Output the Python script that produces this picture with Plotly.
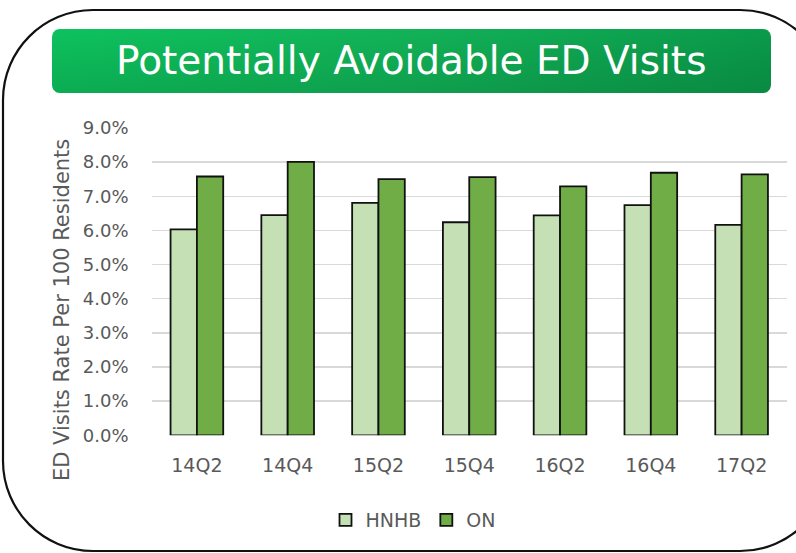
import math
import plotly.graph_objects as go

# ---- data ----
categories = ["14Q2", "14Q4", "15Q2", "15Q4", "16Q2", "16Q4", "17Q2"]
hnhb = [0.0603, 0.0645, 0.0681, 0.0624, 0.0644, 0.0674, 0.0616]
on = [0.0758, 0.0801, 0.0750, 0.0756, 0.0729, 0.0769, 0.0764]
series_names = ["HNHB", "ON"]
y_ticks = [i / 100 for i in range(0, 10)]
title_text = "Potentially Avoidable ED Visits"
y_title = "ED Visits Rate Per 100 Residents"

W, H = 796, 553
FONT = "DejaVu Sans"
GRAY = "#595959"

fig = go.Figure()

fig.add_trace(go.Bar(x=categories, y=hnhb, name=series_names[0],
                     marker=dict(color="#c5e0b4", line=dict(color="#111111", width=1.8)),
                     hoverinfo="skip"))
fig.add_trace(go.Bar(x=categories, y=on, name=series_names[1],
                     marker=dict(color="#70ad47", line=dict(color="#111111", width=1.8)),
                     hoverinfo="skip"))

# --- decorative overlay in pixel coordinates ---
def rounded_path(x0, y0, x1, y1, r):
    k = 0.5523 * r
    return (f"M{x0+r},{y0} L{x1-r},{y0} C{x1-r+k},{y0} {x1},{y0+r-k} {x1},{y0+r} "
            f"L{x1},{y1-r} C{x1},{y1-r+k} {x1-r+k},{y1} {x1-r},{y1} "
            f"L{x0+r},{y1} C{x0+r-k},{y1} {x0},{y1-r+k} {x0},{y1-r} "
            f"L{x0},{y0+r} C{x0},{y0+r-k} {x0+r-k},{y0} {x0+r},{y0} Z")

def rounded_points(x0, y0, x1, y1, r, n=8):
    pts = []
    corners = [(x1 - r, y0 + r, -90, 0), (x1 - r, y1 - r, 0, 90),
               (x0 + r, y1 - r, 90, 180), (x0 + r, y0 + r, 180, 270)]
    for cx, cy, a0, a1 in corners:
        for i in range(n + 1):
            a = math.radians(a0 + (a1 - a0) * i / n)
            pts.append((cx + r * math.cos(a), cy + r * math.sin(a)))
    pts.append(pts[0])
    return [p[0] for p in pts], [p[1] for p in pts]

bx, by = rounded_points(52, 29, 771, 93, 8)
fig.add_trace(go.Scatter(x=bx, y=by, xaxis="x2", yaxis="y2", mode="lines",
                         line=dict(width=0), fill="toself",
                         fillgradient=dict(type="horizontal", start=52, stop=771,
                                           colorscale=[[0, "#0dc25e"], [0.5, "#12b258"],
                                                       [1, "#0a9a4b"]]),
                         showlegend=False, hoverinfo="skip"))
fig.add_trace(go.Scatter(x=bx, y=by, xaxis="x2", yaxis="y2", mode="lines",
                         line=dict(width=0), fill="toself",
                         fillgradient=dict(type="vertical", start=29, stop=93,
                                           colorscale=[[0, "rgba(0,40,10,0)"],
                                                       [1, "rgba(0,40,10,0.14)"]]),
                         showlegend=False, hoverinfo="skip"))

fig.add_shape(type="path", path=rounded_path(3, 10, 830, 551, 90),
              xref="x2", yref="y2", line=dict(color="#111111", width=2.2),
              fillcolor="rgba(0,0,0,0)", layer="above")

fig.add_annotation(x=411, y=60, xref="x2", yref="y2", text=title_text,
                   showarrow=False, font=dict(family=FONT, size=39, color="white"),
                   xanchor="center", yanchor="middle")
fig.add_annotation(x=62, y=310, xref="x2", yref="y2", text=y_title, textangle=-90,
                   showarrow=False, font=dict(family=FONT, size=21, color=GRAY),
                   xanchor="center", yanchor="middle")

fig.update_layout(
    template="none",
    width=W, height=H,
    margin=dict(l=0, r=0, t=0, b=0, autoexpand=False),
    paper_bgcolor="white", plot_bgcolor="rgba(0,0,0,0)",
    barmode="group", bargap=0.42, bargroupgap=0,
    font=dict(family=FONT, color=GRAY),
    xaxis=dict(domain=[151.5 / W, 787 / W], showgrid=False, showline=False,
               zeroline=False, automargin=False,
               ticks="", tickfont=dict(size=19, color=GRAY), ticklabelstandoff=17,
               fixedrange=True),
    yaxis=dict(domain=[1 - 435.3 / H, 1 - 128 / H], range=[0, 0.09],
               tickvals=y_ticks, tickformat=".1%", showgrid=True, automargin=False,
               gridcolor="#d9d9d9", gridwidth=1.5, zeroline=False, showline=False,
               ticks="", tickfont=dict(size=18, color=GRAY), ticklabelstandoff=22,
               fixedrange=True),
    xaxis2=dict(domain=[0, 1], range=[0, W], visible=False, anchor="y2",
                fixedrange=True, automargin=False),
    yaxis2=dict(domain=[0, 1], range=[H, 0], visible=False, anchor="x2",
                fixedrange=True, automargin=False),
    legend=dict(orientation="h", x=413 / W, y=1 - 520 / H, xanchor="center",
                yanchor="middle", font=dict(size=19, color=GRAY),
                itemwidth=30, tracegroupgap=0, bgcolor="rgba(0,0,0,0)"),
    showlegend=True,
)

fig.write_html("out.html", config={"displayModeBar": False, "staticPlot": True},
               post_script="document.body.style.margin='0px';")
